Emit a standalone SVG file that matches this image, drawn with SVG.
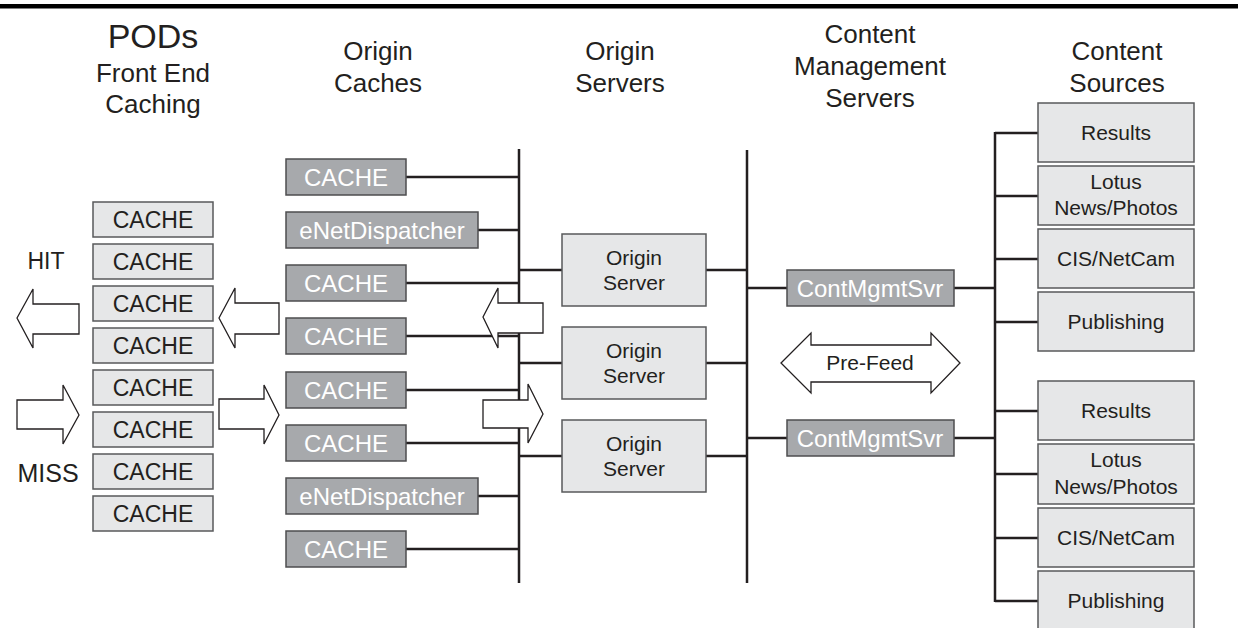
<svg xmlns="http://www.w3.org/2000/svg" width="1238" height="628" viewBox="0 0 1238 628">
<style>
text{font-family:"Liberation Sans",Arial,sans-serif;fill:#231f20;text-anchor:middle}
.hdr{font-size:26px}
.lt{fill:#e6e7e8;stroke:#58595b;stroke-width:1.5}
.dk{fill:#a7a9ac;stroke:#4d4d4f;stroke-width:1.5}
.wt{fill:#ffffff;font-size:24px}
.pod{font-size:23px}
.srv{font-size:21px}
.ln{stroke:#231f20;stroke-width:2.5;fill:none}
.ar{fill:#ffffff;stroke:#231f20;stroke-width:1.3;stroke-linejoin:miter}
</style>
<rect width="1238" height="628" fill="#ffffff"/>
<rect x="0" y="4" width="1238" height="4.5" fill="#000000"/>

<g id="headers">
<text x="153" y="48" style="font-size:34px">PODs</text>
<text x="153" y="82" class="hdr">Front End</text>
<text x="153" y="113" class="hdr">Caching</text>
<text x="378" y="60" class="hdr">Origin</text>
<text x="378" y="92" class="hdr">Caches</text>
<text x="620" y="60" class="hdr">Origin</text>
<text x="620" y="92" class="hdr">Servers</text>
<text x="870" y="43" class="hdr">Content</text>
<text x="870" y="75" class="hdr">Management</text>
<text x="870" y="107" class="hdr">Servers</text>
<text x="1117" y="60" class="hdr">Content</text>
<text x="1117" y="92" class="hdr">Sources</text>
<text x="46" y="269" style="font-size:23px">HIT</text>
<text x="48" y="482" style="font-size:25px">MISS</text>
</g>

<g id="connectors">
<line class="ln" x1="519" y1="149" x2="519" y2="583"/>
<line class="ln" x1="747" y1="150" x2="747" y2="583"/>
<line class="ln" x1="995" y1="132" x2="995" y2="602"/>
<path class="ln" d="M406 177H519M478 230H519M406 283H519M406 336H519M406 390H519M406 443H519M478 496H519M406 549H519"/>
<path class="ln" d="M519 270H562M519 363H562M519 456H562M706 270H747M706 363H747M706 456H747"/>
<path class="ln" d="M747 288H787M954 288H995M747 438H787M954 438H995"/>
<path class="ln" d="M995 133H1038M995 196H1038M995 259H1038M995 322H1038M995 411H1038M995 474H1038M995 538H1038M995 601H1038"/>
</g>

<g id="pods">
<g id="pod1"><rect class="lt" x="93" y="202" width="120" height="35"/><text class="pod" x="153" y="228">CACHE</text></g>
<g id="pod2"><rect class="lt" x="93" y="244" width="120" height="35"/><text class="pod" x="153" y="270">CACHE</text></g>
<g id="pod3"><rect class="lt" x="93" y="286" width="120" height="35"/><text class="pod" x="153" y="312">CACHE</text></g>
<g id="pod4"><rect class="lt" x="93" y="328" width="120" height="35"/><text class="pod" x="153" y="354">CACHE</text></g>
<g id="pod5"><rect class="lt" x="93" y="370" width="120" height="35"/><text class="pod" x="153" y="396">CACHE</text></g>
<g id="pod6"><rect class="lt" x="93" y="412" width="120" height="35"/><text class="pod" x="153" y="438">CACHE</text></g>
<g id="pod7"><rect class="lt" x="93" y="454" width="120" height="35"/><text class="pod" x="153" y="480">CACHE</text></g>
<g id="pod8"><rect class="lt" x="93" y="496" width="120" height="35"/><text class="pod" x="153" y="522">CACHE</text></g>
</g>

<g id="origin-caches">
<g id="oc1"><rect class="dk" x="286" y="159" width="120" height="36"/><text class="wt" x="346" y="186">CACHE</text></g>
<g id="oc2"><rect class="dk" x="286" y="212" width="192" height="36"/><text class="wt" x="382" y="239">eNetDispatcher</text></g>
<g id="oc3"><rect class="dk" x="286" y="265" width="120" height="36"/><text class="wt" x="346" y="292">CACHE</text></g>
<g id="oc4"><rect class="dk" x="286" y="318" width="120" height="36"/><text class="wt" x="346" y="345">CACHE</text></g>
<g id="oc5"><rect class="dk" x="286" y="372" width="120" height="36"/><text class="wt" x="346" y="399">CACHE</text></g>
<g id="oc6"><rect class="dk" x="286" y="425" width="120" height="36"/><text class="wt" x="346" y="452">CACHE</text></g>
<g id="oc7"><rect class="dk" x="286" y="478" width="192" height="36"/><text class="wt" x="382" y="505">eNetDispatcher</text></g>
<g id="oc8"><rect class="dk" x="286" y="531" width="120" height="36"/><text class="wt" x="346" y="558">CACHE</text></g>
</g>

<g id="origin-servers">
<g id="os1"><rect class="lt" x="562" y="234" width="144" height="72"/><text class="srv" x="634" y="265">Origin</text><text class="srv" x="634" y="290">Server</text></g>
<g id="os2"><rect class="lt" x="562" y="327" width="144" height="72"/><text class="srv" x="634" y="358">Origin</text><text class="srv" x="634" y="383">Server</text></g>
<g id="os3"><rect class="lt" x="562" y="420" width="144" height="72"/><text class="srv" x="634" y="451">Origin</text><text class="srv" x="634" y="476">Server</text></g>
</g>

<g id="cms">
<g id="cms1"><rect class="dk" x="787" y="270" width="167" height="36"/><text class="wt" x="870" y="297">ContMgmtSvr</text></g>
<g id="cms2"><rect class="dk" x="787" y="420" width="167" height="36"/><text class="wt" x="870" y="447">ContMgmtSvr</text></g>
</g>

<g id="sources">
<g id="cs1"><rect class="lt" x="1038" y="103" width="156" height="59"/><text class="srv" x="1116" y="140">Results</text></g>
<g id="cs2"><rect class="lt" x="1038" y="166" width="156" height="59"/><text class="srv" x="1116" y="189">Lotus</text><text class="srv" x="1116" y="215">News/Photos</text></g>
<g id="cs3"><rect class="lt" x="1038" y="229" width="156" height="59"/><text class="srv" x="1116" y="266">CIS/NetCam</text></g>
<g id="cs4"><rect class="lt" x="1038" y="292" width="156" height="59"/><text class="srv" x="1116" y="329">Publishing</text></g>
<g id="cs5"><rect class="lt" x="1038" y="381" width="156" height="59"/><text class="srv" x="1116" y="418">Results</text></g>
<g id="cs6"><rect class="lt" x="1038" y="444" width="156" height="60"/><text class="srv" x="1116" y="467">Lotus</text><text class="srv" x="1116" y="494">News/Photos</text></g>
<g id="cs7"><rect class="lt" x="1038" y="508" width="156" height="59"/><text class="srv" x="1116" y="545">CIS/NetCam</text></g>
<g id="cs8"><rect class="lt" x="1038" y="571" width="156" height="62"/><text class="srv" x="1116" y="608">Publishing</text></g>
</g>

<g id="arrows">
<polygon class="ar" points="17,318 33,289 33,304 79,304 79,334 33,334 33,348"/>
<polygon class="ar" points="219,318 235,288 235,303 279,303 279,334 235,334 235,348"/>
<polygon class="ar" points="483,317 498,288 498,303 543,303 543,333 498,333 498,348"/>
<polygon class="ar" points="79,415 63,385 63,400 17,400 17,429 63,429 63,444"/>
<polygon class="ar" points="279,415 264,385 264,399 219,399 219,429 264,429 264,444"/>
<polygon class="ar" points="543,414 528,384 528,400 483,400 483,428 528,428 528,443"/>
<g id="prefeed">
<polygon class="ar" points="781,363 811,333 811,345 931,345 931,333 960,363 931,393 931,382 811,382 811,393"/>
<text class="srv" x="870" y="370">Pre-Feed</text>
</g>
</g>
</svg>
